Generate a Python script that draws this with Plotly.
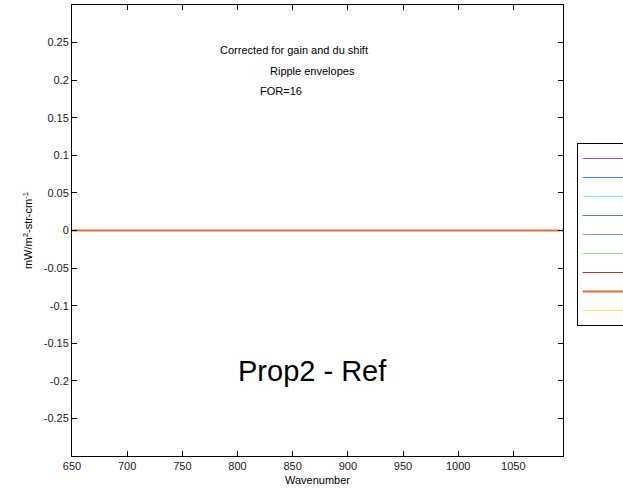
import plotly.graph_objects as go

# Data
wavenumber = [650, 700, 750, 800, 850, 900, 950, 1000, 1050, 1095]
# legend labels are cut off at the right edge of the reference, so none is readable
series_names = ["", "", "", "", "", "", "", "", ""]
series_values = [[0.0] * len(wavenumber) for _ in series_names]
series_colors = ["#9b55cc", "#3f86e6", "#7ee6e6", "#4f8f80", "#7cba7c",
                 "#92e692", "#c03232", "#ec6a38", "#f0e254"]

x_ticks = [650, 700, 750, 800, 850, 900, 950, 1000, 1050]
y_ticks = [-0.25, -0.2, -0.15, -0.1, -0.05, 0, 0.05, 0.1, 0.15, 0.2, 0.25]
y_ticktext = ["-0.25", "-0.2", "-0.15", "-0.1", "-0.05", "0",
              "0.05", "0.1", "0.15", "0.2", "0.25"]

FONT = "Liberation Sans, Arial, sans-serif"

fig = go.Figure()
# draw order: orange last so it sits on top; legend order kept by legendrank
order = [0, 1, 2, 3, 4, 5, 6, 8, 7]
for i in order:
    fig.add_trace(go.Scatter(
        x=wavenumber, y=series_values[i], mode="lines", name=series_names[i],
        line=dict(color=series_colors[i], width=2 if i == 7 else 1),
        legendrank=i + 1,
    ))

L, R, T, B = 71.5, 563.3, 5, 456
W, H = 623, 489

fig.update_layout(
    width=W, height=H,
    margin=dict(l=L, r=W - R, t=T, b=H - B, autoexpand=False),
    paper_bgcolor="white", plot_bgcolor="white",
    font=dict(family=FONT, size=11, color="#000000"),
    showlegend=True,
    legend=dict(
        x=(577 - L) / (R - L), y=(B - 143) / (B - T),
        xanchor="left", yanchor="top",
        bgcolor="white", bordercolor="black", borderwidth=1,
        font=dict(size=11, family=FONT), itemwidth=90,
        tracegroupgap=0,
    ),
    xaxis=dict(
        range=[650, 1095], tickvals=x_ticks,
        showline=True, linecolor="black", linewidth=1, mirror="ticks",
        ticks="inside", ticklen=5, tickcolor="black",
        showgrid=False, zeroline=False,
        tickfont=dict(size=11, family=FONT, color="#1a1a1a"),
        title=dict(text="Wavenumber", font=dict(size=11, family=FONT), standoff=5),
    ),
    yaxis=dict(
        range=[-0.3, 0.3], tickvals=y_ticks, ticktext=y_ticktext,
        showline=True, linecolor="black", linewidth=1, mirror="ticks",
        ticks="inside", ticklen=5, tickcolor="black",
        showgrid=False, zeroline=False,
        tickfont=dict(size=11, family=FONT, color="#1a1a1a"),
        title=dict(text="mW/m<sup>2</sup>-str-cm<sup>-1</sup>",
                   font=dict(size=11, family=FONT), standoff=8),
    ),
    annotations=[
        dict(text="Corrected for gain and du shift", xref="paper", yref="paper",
             x=(218 - L) / (R - L), y=(B - 50) / (B - T), xanchor="left", yanchor="middle",
             showarrow=False, font=dict(size=11, family=FONT)),
        dict(text="Ripple envelopes", xref="paper", yref="paper",
             x=(268 - L) / (R - L), y=(B - 71) / (B - T), xanchor="left", yanchor="middle",
             showarrow=False, font=dict(size=11, family=FONT)),
        dict(text="FOR=16", xref="paper", yref="paper",
             x=(258 - L) / (R - L), y=(B - 91) / (B - T), xanchor="left", yanchor="middle",
             showarrow=False, font=dict(size=11, family=FONT)),
        dict(text="Prop2 - Ref", xref="paper", yref="paper",
             x=(236 - L) / (R - L), y=(B - 371) / (B - T), xanchor="left", yanchor="middle",
             showarrow=False, font=dict(size=29, family=FONT)),
    ],
)

fig.write_html("out.html")
